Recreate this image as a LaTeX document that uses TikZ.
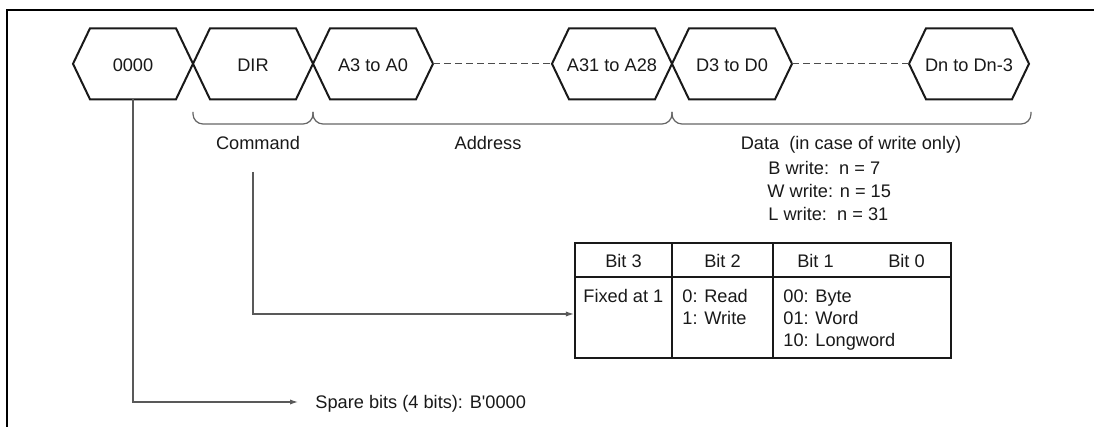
\documentclass[tikz,border=0pt]{standalone}
\usepackage{fontspec}
\setmainfont{Liberation Sans}[Ligatures=TeXOff]
\usetikzlibrary{arrows.meta}
\begin{document}
\begin{tikzpicture}[x=0.5pt,y=-0.5pt,
  txt/.style={inner sep=0pt, text height=6.5pt, text depth=0pt, font=\fontsize{9.1}{11}\selectfont, text=black!90},
  hexline/.style={line width=1pt, line join=miter, draw=black!90},
  conn/.style={draw=black!65, line width=0.6pt},
  arr/.style={conn, -{Latex[length=4pt,width=2.6pt]}},
  bracket/.style={draw=black!60, line width=0.6pt, rounded corners=5pt},
  dashline/.style={draw=black!70, line width=0.6pt, dash pattern=on 3.5pt off 2pt},
  tabout/.style={draw=black!90, line width=1.1pt, inner sep=0pt, minimum width=188pt, minimum height=57.5pt},
  tabin/.style={draw=black!90, line width=0.7pt}]
\useasboundingbox (0,0) rectangle (1094,427);
% frame
\draw[line width=1pt] (1094,10) -- (6.5,10) -- (6.5,427);
% hexagons
\foreach \n/\c/\t in {h1/133/0000, h2/253/DIR, h3/373/A3 to A0, h4/612/A31 to A28, h5/732/D3 to D0, h6/969/Dn to Dn-3}{
  \node[txt] (\n) at (\c,65) {\t};
  \coordinate (\n l) at (\c-60,63.8);
  \coordinate (\n r) at (\c+60,63.8);
  \coordinate (\n b) at (\c,99.3);
  \draw[hexline] (\n l) -- (\c-43,28.3) -- (\c+43,28.3) -- (\n r) -- (\c+43,99.3) -- (\c-43,99.3) -- cycle;
}
\draw[dashline] (h3r) -- (h4l);
\draw[dashline] (h5r) -- (h6l);
% brackets
\draw[bracket] (193,112) |- (313,124) -- (313,112);
\draw[bracket] (313,112) |- (672,124) -- (672,112);
\draw[bracket] (672,112) |- (1031,124) -- (1031,112);
\node[txt] (cmd) at (258,143) {Command};
\node[txt] (addr) at (488,143) {Address};
\node[txt] (data) at (851,143) {Data\ \ (in case of write only)};
\node[txt, anchor=west] (bw) at (768,168) {B write:\ \ n = 7};
\node[txt, anchor=west] (ww) at (767,191) {W write: n = 15};
\node[txt, anchor=west] (lw) at (768,214.5) {L write:\ \ n = 31};
% table
\draw[tabin] (575,277) -- (951,277);
\draw[tabin] (672,243) -- (672,358);
\draw[tabin] (773,243) -- (773,358);
\node[tabout] (tab) at (763,300.5) {};
\node[txt] (b3) at (623.5,261) {Bit 3};
\node[txt] (b2) at (722.5,261) {Bit 2};
\node[txt] (b1) at (815.5,261) {Bit 1};
\node[txt] (b0) at (906.5,261) {Bit 0};
\node[txt, anchor=west] (fix) at (583,296) {Fixed at 1};
\node[txt, anchor=west] (rd) at (682,296) {0: Read};
\node[txt, anchor=west] (wr) at (682,318) {1: Write};
\node[txt, anchor=west] (by) at (783,296) {00: Byte};
\node[txt, anchor=west] (wo) at (783,318) {01: Word};
\node[txt, anchor=west] (lo) at (783,340) {10: Longword};
% connectors
\coordinate (cmdc) at (253,172);
\draw[arr] (cmdc) |- ([yshift=-6.75pt]tab.west);
\node[txt, anchor=west] (spare) at (315,402) {Spare bits (4 bits): B'0000};
\draw[arr, shorten >=8.5pt] (h1b) |- (spare.west);
\end{tikzpicture}
\end{document}
